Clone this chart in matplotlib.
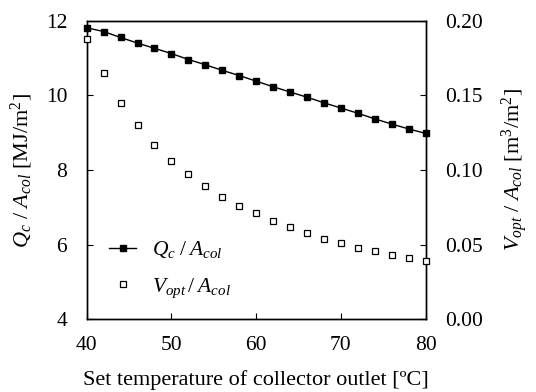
import matplotlib
matplotlib.use("Agg")
import matplotlib.pyplot as plt

plt.rcParams['font.family'] = ['Liberation Serif', 'DejaVu Serif']
plt.rcParams['mathtext.fontset'] = 'custom'
plt.rcParams['mathtext.rm'] = 'Liberation Serif'
plt.rcParams['mathtext.it'] = 'Liberation Serif:italic'

temps = [40, 42, 44, 46, 48, 50, 52, 54, 56, 58, 60, 62, 64, 66, 68, 70, 72, 74, 76, 78, 80]
qc_acol = [11.81, 11.71, 11.55, 11.40, 11.26, 11.12, 10.96, 10.82, 10.67, 10.53, 10.38,
           10.23, 10.09, 9.95, 9.80, 9.66, 9.52, 9.37, 9.23, 9.10, 8.98]
vopt_acol = [0.188, 0.165, 0.145, 0.130, 0.117, 0.106, 0.097, 0.089, 0.082, 0.076, 0.071,
             0.066, 0.062, 0.058, 0.054, 0.051, 0.048, 0.046, 0.043, 0.041, 0.039]
xticks = [40, 50, 60, 70, 80]
yticks_left = [4, 6, 8, 10, 12]
yticks_right = [0.00, 0.05, 0.10, 0.15, 0.20]

FS = 15.5
LFS = 16

fig = plt.figure(figsize=(5.36, 3.92), dpi=100)
ax = fig.add_axes([0.1617, 0.1855, 0.6325, 0.7617])
ax2 = ax.twinx()

l1, = ax.plot(temps, qc_acol, color='black', lw=1.0, marker='s', markersize=4,
              markerfacecolor='black', markeredgecolor='black', clip_on=False, zorder=3,
              label=r'$Q_c\;/\;A_{col}$')
l2, = ax2.plot(temps, vopt_acol, ls='none', marker='s', markersize=5,
               markerfacecolor='white', markeredgecolor='black', markeredgewidth=0.9,
               clip_on=False, zorder=3, label=r'$V_{opt}\,/\;A_{col}$')

ax.set_xlim(40, 80)
ax.set_ylim(4, 12)
ax2.set_ylim(0, 0.20)
ax.set_xticks(xticks)
ax.set_yticks(yticks_left)
ax2.set_yticks(yticks_right)
ax2.set_yticklabels([f"{v:.2f}" for v in yticks_right])

for a in (ax, ax2):
    a.tick_params(direction='in', length=4.5, width=0.8, labelsize=FS, pad=14)
    for s in a.spines.values():
        s.set_linewidth(1.0)
ax.tick_params(axis='x', pad=12)

ax.set_xlabel('Set temperature of collector outlet [ºC]', fontsize=LFS, labelpad=11)
ax.set_ylabel(r'$Q_c$ / $A_{col}$ [MJ/m$^2$]', fontsize=LFS, labelpad=8)
ax2.set_ylabel(r'$V_{opt}$ / $A_{col}$ [m$^3$/m$^2$]', fontsize=LFS, labelpad=12)

leg = ax.legend(handles=[l1, l2], loc='lower left', bbox_to_anchor=(0.01, 0.0),
                frameon=False, fontsize=FS, handlelength=1.25, labelspacing=0.74,
                handletextpad=0.75)

fig.savefig('out.png', dpi=100)
